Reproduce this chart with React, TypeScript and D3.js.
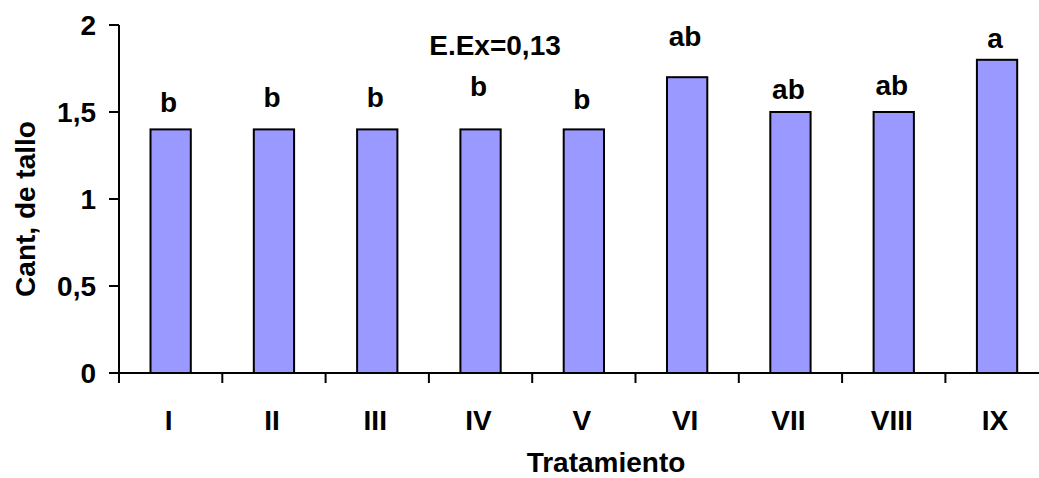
import React from "react";
import * as d3 from "d3";

const categories = ["I", "II", "III", "IV", "V", "VI", "VII", "VIII", "IX"];
const values = [1.4, 1.4, 1.4, 1.4, 1.4, 1.7, 1.5, 1.5, 1.8];
const letters = ["b", "b", "b", "b", "b", "ab", "ab", "ab", "a"];
// letter annotation baseline heights, in data units
const letterAt = [1.5, 1.53, 1.53, 1.59, 1.52, 1.88, 1.575, 1.6, 1.87];
const yTicks = [0, 0.5, 1, 1.5, 2];
const yTickLabels = ["0", "0,5", "1", "1,5", "2"];
const annotation = "E.Ex=0,13";
const xTitle = "Tratamiento";
const yTitle = "Cant, de tallo";

const W = 1039;
const H = 478;
const left = 119;
const step = 103.3;
const font = "'Liberation Sans', Arial, sans-serif";

export default function App() {
  const x = d3
    .scaleBand<string>()
    .domain(categories)
    .range([left, left + step * categories.length])
    .padding(0);
  const y = d3.scaleLinear().domain([0, 2]).range([373, 25]);
  const bw = x.bandwidth() * 0.39;
  const fs = 28;

  return (
    <svg
      width={W}
      height={H}
      style={{ position: "absolute", left: 0, top: 0, background: "#fff" }}
      fontFamily={font}
      fontWeight="bold"
    >
      {categories.map((c, i) => {
        const cx = (x(c) as number) + x.bandwidth() / 2;
        return (
          <g key={c}>
            <rect
              x={cx - bw / 2}
              y={y(values[i])}
              width={bw}
              height={y(0) - y(values[i])}
              fill="#9999FF"
              stroke="#000"
              strokeWidth={2}
            />
            <text x={cx - 2} y={y(letterAt[i])} textAnchor="middle" fontSize={fs}>
              {letters[i]}
            </text>
            <text x={cx - 2} y={430} textAnchor="middle" fontSize={fs}>
              {c}
            </text>
          </g>
        );
      })}
      {/* y axis */}
      <line x1={left} x2={left} y1={y(2)} y2={383} stroke="#000" strokeWidth={2} />
      {yTicks.map((t, i) => (
        <g key={t}>
          <line x1={109} x2={left} y1={y(t)} y2={y(t)} stroke="#000" strokeWidth={2} />
          <text x={96} y={y(t) + 10} textAnchor="end" fontSize={fs}>
            {yTickLabels[i]}
          </text>
        </g>
      ))}
      {/* x axis */}
      <line x1={left - 10} x2={W + 20} y1={y(0)} y2={y(0)} stroke="#000" strokeWidth={2} />
      {categories.map((c) => (
        <line
          key={"t" + c}
          x1={(x(c) as number) + x.bandwidth()}
          x2={(x(c) as number) + x.bandwidth()}
          y1={y(0)}
          y2={383}
          stroke="#000"
          strokeWidth={2}
        />
      ))}
      <text x={495} y={55} textAnchor="middle" fontSize={fs}>
        {annotation}
      </text>
      <text x={606} y={472} textAnchor="middle" fontSize={fs}>
        {xTitle}
      </text>
      <text
        transform={`translate(35,209) rotate(-90)`}
        textAnchor="middle"
        fontSize={fs}
      >
        {yTitle}
      </text>
    </svg>
  );
}
